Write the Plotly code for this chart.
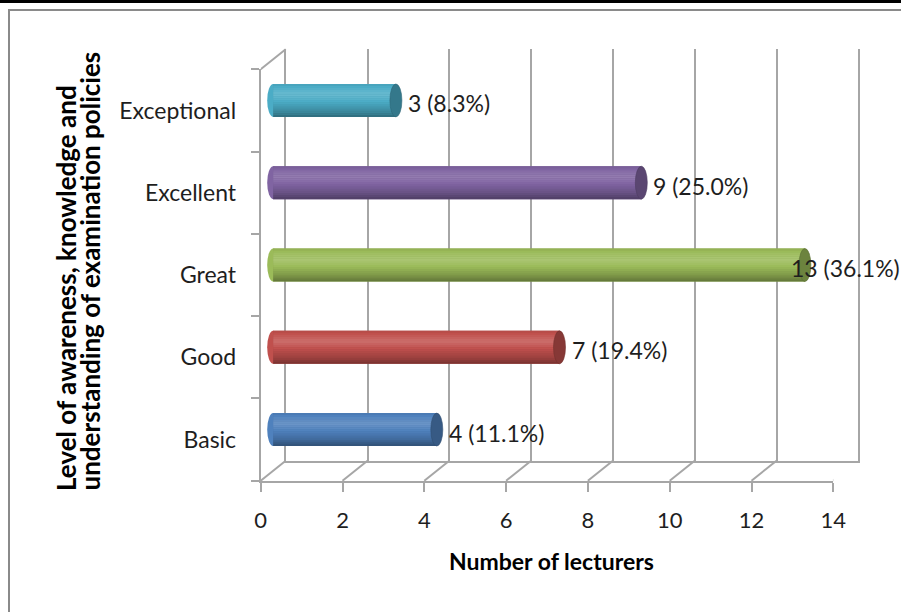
import plotly.graph_objects as go

# ---------------- data ----------------
categories = ["Basic", "Good", "Great", "Excellent", "Exceptional"]
counts = [4, 7, 13, 9, 3]
percents = [11.1, 19.4, 36.1, 25.0, 8.3]
x_ticks = [0, 2, 4, 6, 8, 10, 12, 14]
x_title = "Number of lecturers"
y_title_lines = ["Level of awareness, knowledge and", "understanding of examination policies"]

# ---------------- style ----------------
bar_colors = ["#4F81BD", "#C0504D", "#9BBB59", "#8064A2", "#4BACC6"]
GRID = "#a6a6a6"
FONT = "Lato, 'Open Sans', sans-serif"
TXT = "#1e1e1e"

W, H = 901, 612
def fx(p):
    return p / W
def fy(p):
    return 1 - p / H

FX0, PPU = 260.7, 40.9          # front plane: x=0 pixel, pixels per unit
XMAX = x_ticks[-1]
FX1 = FX0 + PPU * XMAX
FYT, FYB = 69.3, 480.7          # front plane top / bottom pixels
DX, DY = 25, 20                 # depth offset of the back wall
MX, MY = DX / 2, DY / 2         # bars sit mid-depth
XPAD = 0.5                      # room left of zero for the cylinder end


def hex2rgb(h):
    h = h.lstrip("#")
    return [int(h[i:i + 2], 16) for i in (0, 2, 4)]


def shade(h, f):
    r = hex2rgb(h)
    if f >= 1:
        out = [c + (255 - c) * (f - 1) * 1.3 for c in r]
    else:
        out = [c * f for c in r]
    out = [max(0, min(255, int(round(c)))) for c in out]
    return "rgb(%d,%d,%d)" % tuple(out)


def profile(t):
    pts = [(0.0, 0.93), (0.12, 1.02), (0.32, 1.13), (0.55, 1.0), (0.8, 0.82), (1.0, 0.62)]
    for (t0, f0), (t1, f1) in zip(pts[:-1], pts[1:]):
        if t0 <= t <= t1:
            return f0 + (f1 - f0) * (t - t0) / (t1 - t0)
    return pts[-1][1]


fig = go.Figure()

# invisible anchors for back-wall and front axes
for ax, ay in (("x", "y"), ("x2", "y2")):
    fig.add_trace(go.Scatter(x=counts, y=categories, xaxis=ax, yaxis=ay, mode="markers",
                             marker=dict(opacity=0), hoverinfo="skip", showlegend=False))

# cylinder bars built from shaded strips
BAR_W = 0.40
N = 16
fig.add_trace(go.Bar(x=counts, y=categories, orientation="h", xaxis="x3", yaxis="y3",
                     width=BAR_W, offset=-BAR_W / 2,
                     marker=dict(color=[shade(c, 0.9) for c in bar_colors], line=dict(width=0)),
                     hoverinfo="skip", showlegend=False))
w = BAR_W / N
for k in range(N):
    t = (k + 0.5) / N
    fig.add_trace(go.Bar(x=counts, y=categories, orientation="h", xaxis="x3", yaxis="y3",
                         width=w * 1.05, offset=BAR_W / 2 - (k + 1) * w,
                         marker=dict(color=[shade(c, profile(t)) for c in bar_colors], line=dict(width=0)),
                         hoverinfo="skip", showlegend=False))

shapes = []
CW = 6 / PPU
for i, (v, c) in enumerate(zip(counts, bar_colors)):
    # left end of cylinder
    shapes.append(dict(type="circle", xref="x3", yref="y3", x0=-CW, x1=CW,
                       y0=i - BAR_W / 2, y1=i + BAR_W / 2, fillcolor=shade(c, 1.0),
                       line=dict(width=0), layer="below"))
    # right end cap
    shapes.append(dict(type="circle", xref="x3", yref="y3", x0=v - CW, x1=v + CW,
                       y0=i - BAR_W / 2, y1=i + BAR_W / 2, fillcolor=shade(c, 0.7),
                       line=dict(width=0.6, color=shade(c, 0.6)), layer="above"))

# floor diagonals and top-left diagonal
for v in x_ticks:
    shapes.append(dict(type="line", xref="x2", yref="paper", x0=v, x1=v + DX / PPU,
                       y0=fy(FYB), y1=fy(FYB - DY), line=dict(color=GRID, width=2), layer="below"))
shapes.append(dict(type="line", xref="x2", yref="paper", x0=0, x1=DX / PPU,
                   y0=fy(FYT), y1=fy(FYT - DY), line=dict(color=GRID, width=2), layer="below"))

# outer frame
shapes.append(dict(type="rect", xref="paper", yref="paper", x0=0, x1=1, y0=fy(3), y1=1,
                   fillcolor="black", line=dict(width=0)))
shapes.append(dict(type="line", xref="paper", yref="paper", x0=fx(8), x1=1, y0=fy(10), y1=fy(10),
                   line=dict(color="#8a8a8a", width=2)))
shapes.append(dict(type="line", xref="paper", yref="paper", x0=fx(9), x1=fx(9), y0=fy(10), y1=0,
                   line=dict(color="#8a8a8a", width=2)))

annotations = []
vmax = max(counts)
for v, p, cat in zip(counts, percents, categories):
    annotations.append(dict(text=f"{v} ({p:.1f}%)", x=v, y=cat, xref="x3", yref="y3",
                            xanchor="left", yanchor="middle", showarrow=False,
                            xshift=(-16 if v == vmax else 10), yshift=-3,
                            font=dict(family=FONT, size=23, color=TXT)))
annotations.append(dict(text=x_title, x=fx(551), y=fy(561), xref="paper", yref="paper",
                        showarrow=False, xanchor="center", yanchor="middle",
                        font=dict(family=FONT, size=23, color="black", weight="bold")))
for line, xc in zip(y_title_lines, (66, 89)):
    annotations.append(dict(text=line, x=fx(xc), y=fy(493), xref="paper", yref="paper",
                            showarrow=False, xanchor="center", yanchor="bottom", textangle=-90,
                            font=dict(family=FONT, size=26, color="black", weight="bold")))

cat_range = [-0.5, len(categories) - 0.5]

fig.update_layout(
    width=W, height=H, autosize=False,
    margin=dict(l=0, r=0, t=0, b=0, pad=0, autoexpand=False),
    paper_bgcolor="white", plot_bgcolor="rgba(0,0,0,0)",
    barmode="overlay", showlegend=False,
    shapes=shapes, annotations=annotations,
    # back wall
    xaxis=dict(domain=[fx(FX0 + DX), fx(FX1 + DX)], range=[0, XMAX], anchor="y",
               tickmode="array", tickvals=x_ticks, showgrid=True, gridcolor=GRID, gridwidth=2,
               showticklabels=False, ticks="", zeroline=False, automargin=False,
               showline=True, linecolor=GRID, linewidth=2),
    yaxis=dict(domain=[fy(FYB - DY), fy(FYT - DY)], type="category", categoryorder="array",
               categoryarray=categories, range=cat_range, anchor="x", automargin=False,
               showgrid=False, showticklabels=False, ticks="", zeroline=False,
               showline=True, mirror=True, linecolor=GRID, linewidth=2),
    # front axes
    xaxis2=dict(domain=[fx(FX0), fx(FX1)], range=[0, XMAX], anchor="y2", automargin=False,
                tickmode="array", tickvals=x_ticks, showgrid=False, zeroline=False,
                ticks="outside", ticklen=9, tickwidth=2, tickcolor=GRID,
                showline=True, linecolor=GRID, linewidth=2, ticklabelstandoff=10,
                tickfont=dict(family=FONT, size=22, color=TXT)),
    yaxis2=dict(domain=[fy(FYB), fy(FYT)], type="category", categoryorder="array",
                categoryarray=categories, range=cat_range, anchor="x2", automargin=False,
                tickson="boundaries", ticks="outside", ticklen=8, tickwidth=2, tickcolor=GRID,
                showgrid=False, zeroline=False, showline=True, linecolor=GRID, linewidth=2,
                ticklabelstandoff=18, tickfont=dict(family=FONT, size=23, color=TXT)),
    # bars (mid depth)
    xaxis3=dict(domain=[fx(FX0 + MX - XPAD * PPU), fx(FX1 + MX)], range=[-XPAD, XMAX],
                anchor="y3", visible=False, automargin=False),
    yaxis3=dict(domain=[fy(FYB - MY), fy(FYT - MY)], type="category", categoryorder="array",
                categoryarray=categories, range=cat_range, anchor="x3", visible=False,
                automargin=False),
)

post = (
    "document.documentElement.style.overflow='hidden';"
    "document.body.style.margin='0';document.body.style.overflow='hidden';"
)
fig.write_html("out.html", post_script=post,
               config={"displayModeBar": False, "responsive": False})
